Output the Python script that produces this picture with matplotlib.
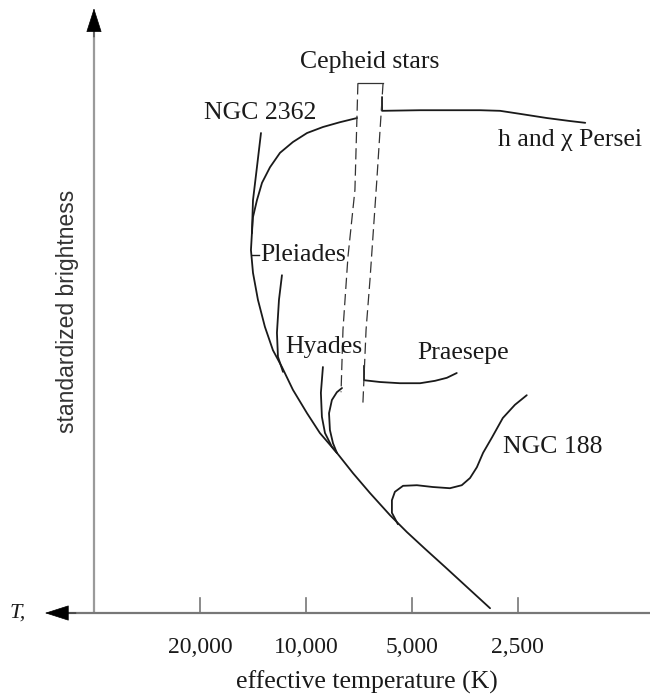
import matplotlib.pyplot as plt

# Schematic HR diagram of star clusters: effective temperature (K, log scale,
# hot on the left) against a standardized brightness in arbitrary units.

# main sequence with the NGC 2362 / h and chi Persei turn-off arc
ms_temp = [7160, 8010, 8950, 9930, 10890, 11850, 12650, 13330, 13780, 14140,
           14240, 14330, 14140, 13690, 13080, 12410, 11700, 10890, 9930, 9130,
           8170, 7350, 6580, 5770, 5170, 4590, 4030, 3470, 3000]
ms_bright = [8.25, 8.18, 8.10, 8.00, 7.85, 7.67, 7.43, 7.17, 6.88, 6.60,
             6.33, 6.05, 5.67, 5.22, 4.77, 4.38, 4.10, 3.72, 3.33, 3.00,
             2.67, 2.33, 2.00, 1.63, 1.35, 1.07, 0.77, 0.42, 0.08]

ngc2362_temp = [13420, 13780, 14140, 14240]
ngc2362_bright = [8.00, 7.43, 6.88, 6.33]

persei_temp = [6080, 6080, 4740, 3650, 3200, 2810, 2470, 2070, 1780, 1610]
persei_bright = [8.60, 8.37, 8.38, 8.38, 8.38, 8.37, 8.32, 8.25, 8.20, 8.17]

pleiades_temp = [11700, 11930, 12090, 12010, 11620]
pleiades_bright = [5.63, 5.22, 4.67, 4.27, 4.02]

hyades_temp = [8950, 9070, 9010, 8830, 8440, 8170]
hyades_bright = [4.10, 3.67, 3.27, 3.00, 2.77, 2.67]

hook_temp = [7900, 8170, 8440, 8600, 8550, 8380, 8170]
hook_bright = [3.75, 3.68, 3.55, 3.33, 3.05, 2.83, 2.67]

praesepe_temp = [6840, 6840, 6160, 5410, 4740, 4300, 3980, 3730]
praesepe_bright = [4.12, 3.88, 3.85, 3.83, 3.83, 3.87, 3.92, 4.00]

ngc188_temp = [5480, 5700, 5700, 5590, 5300, 4840, 4360, 3900, 3610, 3420,
               3270, 3140, 2960, 2760, 2550, 2360]
ngc188_bright = [1.48, 1.67, 1.88, 2.02, 2.12, 2.13, 2.10, 2.08, 2.13, 2.25,
                 2.43, 2.67, 2.93, 3.25, 3.47, 3.63]

# Cepheid instability strip edges
ceph_left_temp = [7120, 7260, 7600, 7850, 7950]
ceph_left_bright = [8.83, 7.05, 5.93, 4.72, 3.68]
ceph_right_temp = [6040, 6290, 6580, 6750, 6890]
ceph_right_bright = [8.83, 7.22, 5.55, 4.72, 3.50]

tick_temps = [20000, 10000, 5000, 2500]
tick_labels = ["20,000", "10,000", "5,000", "2,500"]

serif = ["Liberation Serif", "DejaVu Serif"]
ink = "#1a1a1a"

fig = plt.figure(figsize=(6.5, 6.96), dpi=100)
ax = fig.add_axes([0, 0, 1, 1])
ax.set_xscale("log")
ax.set_xlim(73960, 1054)
ax.set_ylim(-1.383, 10.217)
ax.axis("off")

# axes drawn by hand: grey shafts, black arrow heads
ax.plot([40000, 40000], [0, 9.9], color="#9a9a9a", lw=1.6, solid_capstyle="butt")
ax.plot([52000, 1054], [0, 0], color="#777777", lw=1.6, solid_capstyle="butt")
head = dict(arrowstyle="-|>,head_length=1.0,head_width=0.32", color="black",
            lw=0.5, mutation_scale=16, shrinkA=0, shrinkB=0)
ax.annotate("", xy=(40000, 10.08), xytext=(40000, 9.6), arrowprops=head)
ax.annotate("", xy=(55140, 0), xytext=(45000, 0), arrowprops=head)

for t in tick_temps:
    ax.plot([t, t], [0, 0.25], color="#777777", lw=1.2)
for t, lab in zip(tick_temps, tick_labels):
    ax.text(t, -0.58, lab, ha="center", va="center", fontsize=17,
            family=serif, color=ink)
ax.text(6710, -1.15, "effective temperature (K)", ha="center", va="center",
        fontsize=18.5, family=serif, color=ink)
ax.text(66000, 0.0, "T,", ha="center", va="center", fontsize=16,
        family=serif, style="italic", color=ink)
ax.text(47720, 5.02, "standardized brightness", rotation=90, ha="center",
        va="center", fontsize=16.5,
        family=["Liberation Sans Narrow", "Liberation Sans", "DejaVu Sans"],
        color="#333333")

# cluster sequences
lw = 1.3
for xs, ys in [(ms_temp, ms_bright), (ngc2362_temp, ngc2362_bright),
               (persei_temp, persei_bright), (pleiades_temp, pleiades_bright),
               (hyades_temp, hyades_bright), (hook_temp, hook_bright),
               (praesepe_temp, praesepe_bright), (ngc188_temp, ngc188_bright)]:
    ax.plot(xs, ys, color=ink, lw=lw, solid_capstyle="round",
            solid_joinstyle="round")

# instability strip
for xs, ys in [(ceph_left_temp, ceph_left_bright),
               (ceph_right_temp, ceph_right_bright)]:
    ax.plot(xs, ys, color="#333333", lw=0.9, dashes=(9, 4))
ax.plot([ceph_left_temp[0], ceph_right_temp[0]],
        [ceph_left_bright[0], ceph_right_bright[0]], color="#333333", lw=0.9)

# Pleiades leader tick
ax.plot([14240, 13600], [5.97, 5.97], color=ink, lw=1.0)

lab = dict(fontsize=18.5, family=serif, color=ink, va="center")
ax.text(6580, 9.18, "Cepheid stars", ha="center", **lab)
ax.text(13510, 8.33, "NGC 2362", ha="center", **lab)
ax.text(2850, 7.88, "h and χ Persei", ha="left", **lab)
ax.text(13510, 5.97, "Pleiades", ha="left", **lab)
ax.text(11470, 4.43, "Hyades", ha="left", **lab)
ax.text(4840, 4.33, "Praesepe", ha="left", **lab)
ax.text(2760, 2.77, "NGC 188", ha="left", **lab)

fig.savefig("out.png", dpi=100, facecolor="white")
